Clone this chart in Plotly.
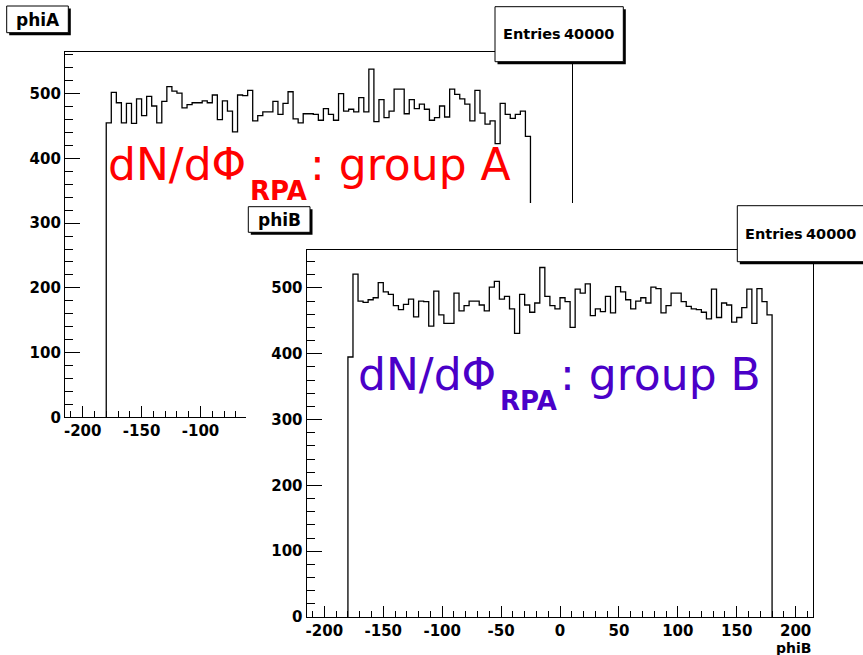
import plotly.graph_objects as go

# Filled phi range (degrees) and bin contents of the two histograms
phi_lo, phi_hi = -180.0, 180.0

counts_A = [455, 502, 486, 455, 485, 454, 492, 466, 496, 481,
            455, 488, 511, 504, 501, 478, 483, 486, 486, 489,
            486, 498, 460, 489, 473, 441, 498, 497, 505, 458,
            466, 472, 472, 488, 468, 485, 503, 461, 455, 469,
            469, 468, 459, 477, 468, 459, 500, 473, 476, 472,
            494, 472, 538, 457, 491, 463, 473, 507, 507, 469,
            491, 477, 484, 476, 459, 463, 481, 464, 507, 499,
            492, 484, 458, 505, 470, 453, 458, 423, 485, 468,
            462, 468, 473, 434]

counts_B = [395, 521, 480, 478, 482, 485, 508, 494, 490, 473,
            467, 475, 483, 456, 480, 479, 442, 495, 459, 446,
            446, 492, 465, 473, 480, 480, 474, 465, 501, 510,
            483, 487, 468, 431, 490, 474, 463, 477, 531, 487,
            473, 468, 485, 479, 440, 498, 492, 506, 458, 468,
            464, 487, 462, 502, 494, 482, 468, 480, 485, 477,
            501, 499, 462, 473, 492, 492, 479, 472, 468, 467,
            463, 453, 498, 455, 477, 474, 448, 455, 470, 498,
            446, 499, 479, 459]

entries_A = 40000
entries_B = 40000

x_range = [-215, 215]
x_tick_vals = [-200, -150, -100, -50, 0, 50, 100, 150, 200]
x_tick_text = ["-200", "-150", "-100", "-50", "0", "50", "100", "150", "200"]
y_tick_vals = [0, 100, 200, 300, 400, 500]
y_tick_text = ["0", "100", "200", "300", "400", "500"]

RED = "#ff0000"
PURPLE = "#4a00c8"
FONT = "DejaVu Sans"

W, H = 863, 655


def fx(px):
    return px / W


def fy(py):
    return 1 - py / H


def step_xy(counts):
    """Outline of a histogram: rises from 0 at the first edge, falls to 0 at the last."""
    n = len(counts)
    width = (phi_hi - phi_lo) / n
    edges = [phi_lo + i * width for i in range(n + 1)]
    xs = [edges[0]] + edges[:-1] + [edges[-1]]
    ys = [0] + list(counts) + [0]
    return xs, ys


tick_font = dict(family=FONT, size=15, color="black", weight="bold")


def x_axis(domain, anchor):
    return dict(
        domain=domain, anchor=anchor, range=x_range,
        showline=True, mirror=True, linecolor="black", linewidth=1.3,
        ticks="inside", ticklen=11, tickwidth=1.3, tickcolor="black",
        tickmode="array", tickvals=x_tick_vals, ticktext=x_tick_text,
        tickfont=tick_font,
        minor=dict(ticks="inside", ticklen=6, tickwidth=1.3, tickcolor="black",
                   tickmode="linear", tick0=0, dtick=10, showgrid=False),
        showgrid=False, zeroline=False, fixedrange=True,
    )


def y_axis(domain, anchor, counts):
    return dict(
        domain=domain, anchor=anchor, range=[0, 1.05 * max(counts)],
        showline=True, mirror=True, linecolor="black", linewidth=1.3,
        ticks="inside", ticklen=15, tickwidth=1.3, tickcolor="black",
        tickmode="array", tickvals=y_tick_vals, ticktext=y_tick_text,
        tickfont=tick_font,
        minor=dict(ticks="inside", ticklen=8, tickwidth=1.3, tickcolor="black",
                   tickmode="linear", tick0=0, dtick=20, showgrid=False),
        showgrid=False, zeroline=False, fixedrange=True,
    )


fig = go.Figure()

xa, ya = step_xy(counts_A)
fig.add_trace(go.Scatter(x=xa, y=ya, mode="lines", line=dict(color="black", width=1.3, shape="hv"),
                         xaxis="x", yaxis="y", hoverinfo="skip", showlegend=False))

# empty subplot whose white background is the second canvas, covering the first one
fig.add_trace(go.Scatter(x=[None], y=[None], mode="lines", xaxis="x2", yaxis="y2",
                         hoverinfo="skip", showlegend=False))

xb, yb = step_xy(counts_B)
fig.add_trace(go.Scatter(x=xb, y=yb, mode="lines", line=dict(color="black", width=1.3, shape="hv"),
                         xaxis="x3", yaxis="y3", hoverinfo="skip", showlegend=False))

hidden = dict(showline=False, showgrid=False, zeroline=False, showticklabels=False,
              ticks="", range=[0, 1], fixedrange=True)

fig.update_layout(
    width=W, height=H,
    margin=dict(l=0, r=0, t=0, b=0),
    paper_bgcolor="white", plot_bgcolor="white",
    template="none", showlegend=False,
    xaxis=x_axis([fx(65), fx(571.7)], "y"),
    yaxis=y_axis([fy(417.3), fy(51.7)], "x", counts_A),
    xaxis2=dict(domain=[fx(246), 1], anchor="y2", **hidden),
    yaxis2=dict(domain=[0, fy(203)], anchor="x2", **hidden),
    xaxis3=x_axis([fx(306.7), fx(813.3)], "y3"),
    yaxis3=y_axis([fy(617), fy(250)], "x3", counts_B),
)


def framed_box(x0, y0, x1, y1, shadow=2.5):
    return [
        dict(type="rect", xref="paper", yref="paper", layer="above",
             x0=fx(x0 + shadow), x1=fx(x1 + shadow), y0=fy(y1 + shadow), y1=fy(y0 + shadow),
             fillcolor="black", line=dict(width=0)),
        dict(type="rect", xref="paper", yref="paper", layer="above",
             x0=fx(x0), x1=fx(x1), y0=fy(y1), y1=fy(y0),
             fillcolor="white", line=dict(color="black", width=1)),
    ]


shapes = []
shapes += framed_box(6.7, 6, 68.3, 32.7)          # title box A
shapes += framed_box(495, 6.7, 623.3, 61.7)       # statistics box A
shapes += framed_box(248.3, 206.7, 310, 232.3)    # title box B
shapes += framed_box(737.3, 205.7, 880, 261.7)    # statistics box B
fig.update_layout(shapes=shapes)


def bold(size):
    return dict(family=FONT, size=size, color="black", weight="bold")


def note(text, x, y, xanchor, font):
    return dict(text=text, x=fx(x), y=fy(y), xref="paper", yref="paper",
                xanchor=xanchor, yanchor="middle", showarrow=False, font=font)


annotations = [
    note("phiA", 37.5, 19.5, "center", bold(17)),
    note("Entries", 501, 33.8, "left", bold(14.5)),
    note(f"{entries_A}", 616, 33.8, "right", bold(14.5)),
    note("phiB", 279.2, 219.5, "center", bold(17)),
    note("Entries", 742.5, 234.3, "left", bold(14.5)),
    note(f"{entries_B}", 857.5, 234.3, "right", bold(14.5)),
    note("phiB", 813, 647.5, "right", bold(14)),
    # labels of the two distributions
    note("dN/dΦ", 106, 164.8, "left", dict(family=FONT, size=44, color=RED)),
    note("RPA", 248, 191, "left", dict(family=FONT, size=26, color=RED, weight="bold")),
    note(": group A", 308, 164.8, "left", dict(family=FONT, size=44, color=RED)),
    note("dN/dΦ", 356, 374.8, "left", dict(family=FONT, size=44, color=PURPLE)),
    note("RPA", 498, 401, "left", dict(family=FONT, size=26, color=PURPLE, weight="bold")),
    note(": group B", 558, 374.8, "left", dict(family=FONT, size=44, color=PURPLE)),
]
fig.update_layout(annotations=annotations)

fig.write_html("out.html")
